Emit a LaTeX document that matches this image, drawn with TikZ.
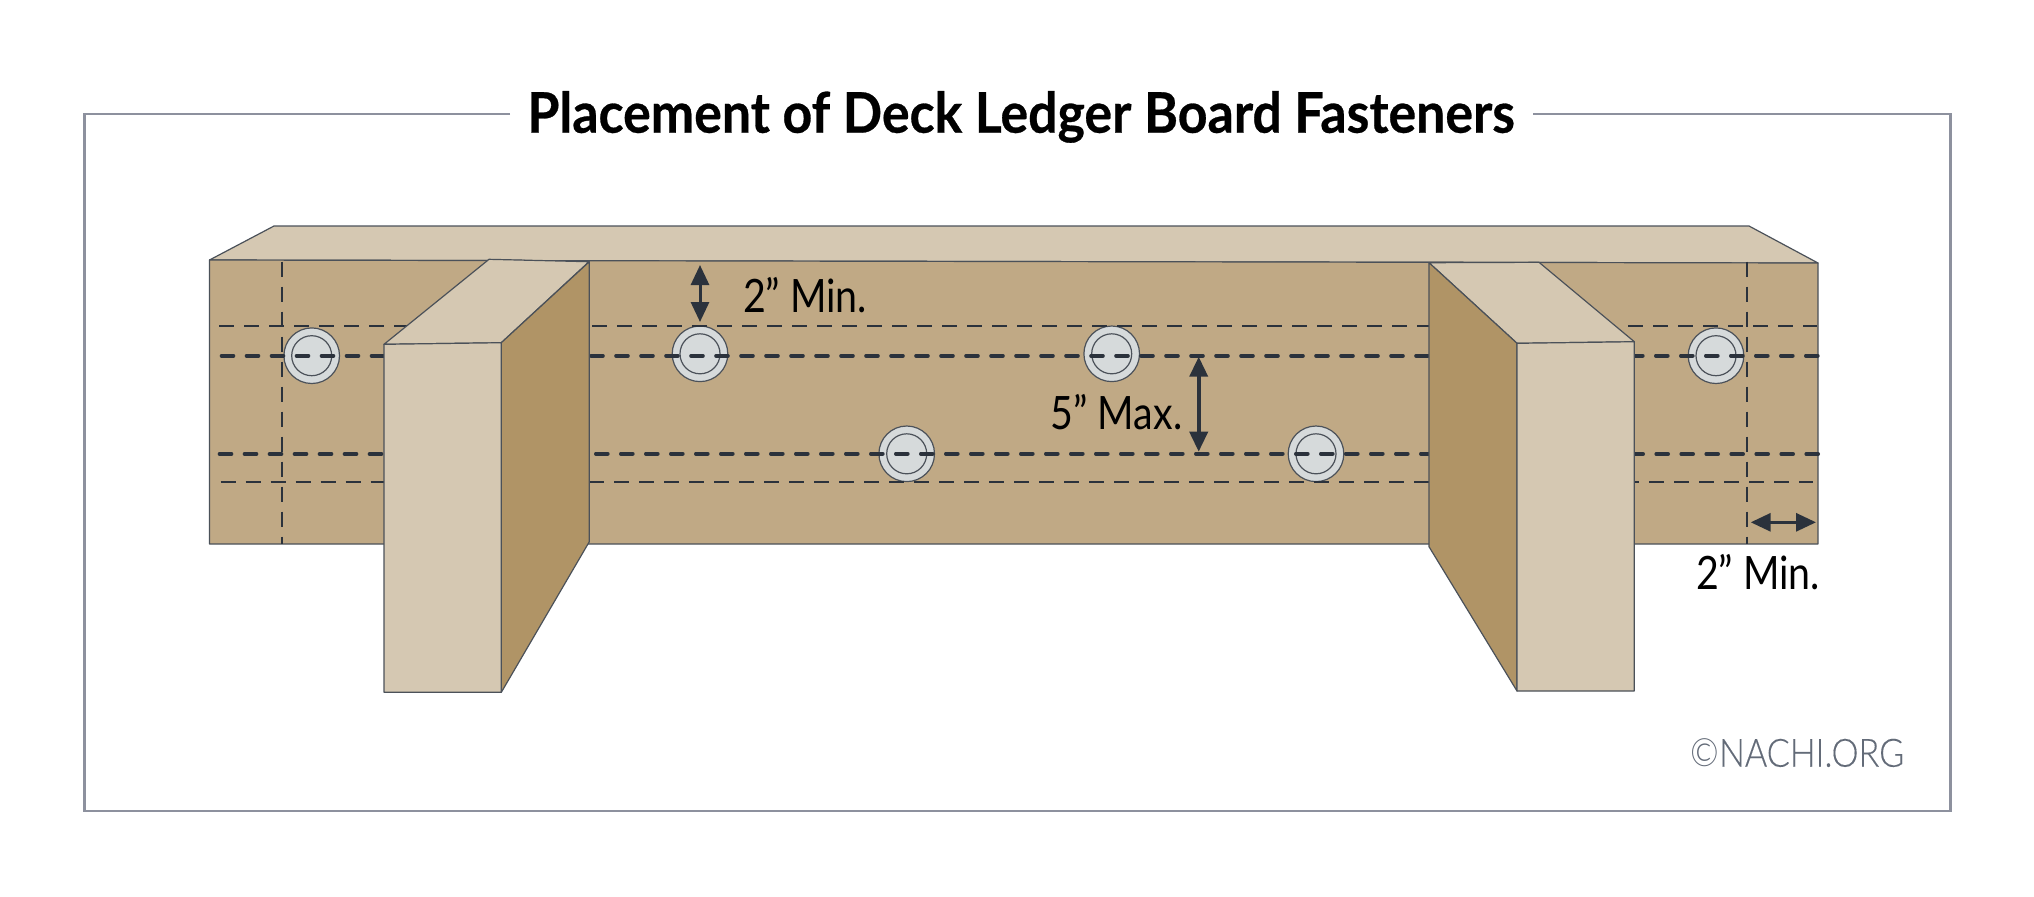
\documentclass[tikz,border=0pt]{standalone}
\usepackage{fontspec}
\usetikzlibrary{arrows.meta}
\setmainfont{Lato}
\newfontfamily\labfont[FakeStretch=0.855]{Lato}
\newfontfamily\titlefont[FakeStretch=0.925,UprightFeatures={FakeBold=0.5},UprightFont={* Bold}]{Lato}
\newfontfamily\markfont[FakeStretch=0.875,UprightFeatures={FakeBold=0.25},UprightFont={* Light}]{Lato}
\newfontfamily\copyfont[FakeStretch=0.875,UprightFont={* Light}]{Lato}
\definecolor{boardc}{HTML}{C0A985}
\definecolor{topc}{HTML}{D5C8B2}
\definecolor{sidec}{HTML}{B09466}
\definecolor{boltc}{HTML}{D6DADB}
\definecolor{inkc}{HTML}{2B323C}
\definecolor{framec}{HTML}{8D919E}
\definecolor{markc}{HTML}{636B78}
\tikzset{
  outline/.style={draw=inkc!85!white,line width=0.6pt,line join=round},
  thin dash/.style={draw=inkc,line width=1pt,dash pattern=on 7.5pt off 5pt},
  thick dash/.style={draw=inkc,line width=1.8pt,line cap=round,dash pattern=on 6pt off 6.5pt},
  dim/.style={draw=inkc,line width=1.5pt,{Triangle[length=10pt,width=9pt]}-{Triangle[length=10pt,width=9pt]}},
  lab/.style={anchor=base west,inner sep=0pt,outer sep=0pt,font=\labfont\fontsize{23}{26}\selectfont,text=black},
}
\newcommand{\boltat}[2]{%
  \fill[boltc] (#1,#2) circle[radius=13.9pt];
  \draw[outline] (#1,#2) circle[radius=13.9pt];
  \draw[outline] (#1,#2) circle[radius=10pt];}
\begin{document}
\begin{tikzpicture}[x=0.5pt,y=-0.5pt]
\useasboundingbox (0,0) rectangle (2034,896);
% frame
\coordinate (fa) at (510,114);
\coordinate (fb) at (1533,114);
\draw[framec,line width=1.25pt,line join=miter] (fa) -- (84.5,114) -- (84.5,811) -- (1950.5,811) -- (1950.5,114) -- (fb);
\node[anchor=base west,inner sep=0pt,font=\titlefont\fontsize{28}{31}\selectfont] (title) at (527,132.7) {Placement of Deck Ledger Board Fasteners};
% board
\path[outline,fill=topc] (209.5,260) -- (274,226) -- (1749,226) -- (1818,263) -- cycle;
\path[outline,fill=boardc] (209.5,260) -- (1818,263) -- (1818,544) -- (209.5,544) -- cycle;
% bolts
\boltat{311.7}{355.7}
\boltat{700}{353.8}
\boltat{1111.7}{353.8}
\boltat{1716}{355.7}
\boltat{906.7}{453.8}
\boltat{1316}{453.8}
% hidden fastener lines
\draw[thin dash] (282,261.7) -- (282,544);
\draw[thin dash] (1746.7,261.7) -- (1746.7,544);
\draw[thin dash] (219,326) -- (420,326);
\draw[thick dash] (221.5,355.7) -- (390,355.7);
\draw[thick dash] (219.5,454) -- (390,454);
\draw[thin dash] (220.7,482) -- (390,482);
\draw[thin dash] (592.3,326) -- (1429,326);
\draw[thick dash] (591,355.7) -- (1429,355.7);
\draw[thick dash] (595.8,453.7) -- (1429,453.7);
\draw[thin dash] (589,482) -- (1429,482);
\draw[thin dash] (1628.3,326) -- (1817,326);
\draw[thick dash] (1630.8,355.7) -- (1818,355.7);
\draw[thick dash] (1631.2,454) -- (1819,454);
\draw[thin dash] (1624,482) -- (1813.3,482);
% left joist
\path[outline,fill=topc] (384,344.3) -- (489,259.3) -- (589,261.7) -- (501.3,342.7) -- cycle;
\path[outline,fill=sidec] (501.3,342.7) -- (589.3,261.7) -- (589.3,541.7) -- (501.3,692.3) -- cycle;
\path[outline,fill=topc] (384,344.3) -- (501.3,342.7) -- (501.3,692.3) -- (384,692.3) -- cycle;
% right joist
\path[outline,fill=topc] (1429,262.7) -- (1539,262.3) -- (1634.3,341.7) -- (1517,343.3) -- cycle;
\path[outline,fill=sidec] (1429,262.7) -- (1517,343.3) -- (1517,691) -- (1429,546.7) -- cycle;
\path[outline,fill=topc] (1517,343.3) -- (1634.3,341.7) -- (1634.3,691) -- (1517,691) -- cycle;
% dimensions
\coordinate (a1) at (700,265);
\coordinate (a2) at (700,322);
\coordinate (b1) at (1198.7,356.7);
\coordinate (b2) at (1198.7,451.7);
\coordinate (c1) at (1750.7,522.3);
\coordinate (c2) at (1816,522.3);
\draw[dim] (a1) -- (a2);
\draw[dim,line width=1.9pt] (b1) -- (b2);
\draw[dim] (c1) -- (c2);
\node[lab] (l1) at (743,312.7) {2” Min.};
\node[lab] (l2) at (1050.7,429.3) {5” Max.};
\node[lab] (l3) at (1696,589.3) {2” Min.};
\node[anchor=base west,inner sep=0pt,text=markc,font=\markfont\fontsize{19.5}{22}\selectfont] (mark) at (1690,766.7) {{\copyfont ©}NACHI.ORG};
\end{tikzpicture}
\end{document}
